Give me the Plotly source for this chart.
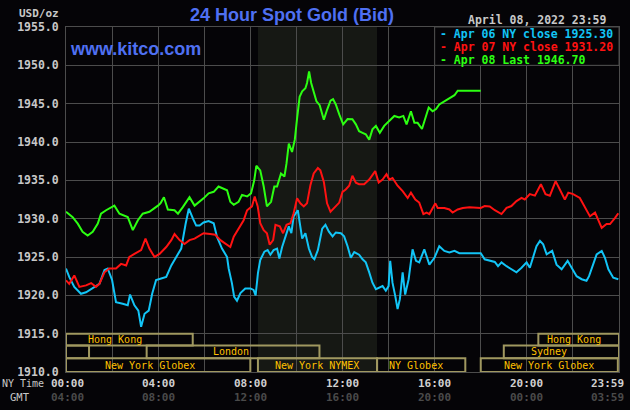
import plotly.graph_objects as go

# ---------------- data ----------------
apr06_hours = [0, 0.14, 0.36, 0.65, 0.87, 1.16, 1.45, 1.67, 1.81, 2.0, 2.17, 2.46, 2.68, 2.78, 2.97, 3.14, 3.26, 3.41, 3.59, 3.74, 3.91, 4.13, 4.35, 4.57, 4.78, 5.0, 5.19, 5.33, 5.51, 5.65, 5.8,
               5.97, 6.19, 6.41, 6.55, 6.77, 6.99, 7.06, 7.2, 7.3, 7.42, 7.57, 7.78, 8.0, 8.14, 8.23, 8.33, 8.43, 8.61, 8.75, 8.87, 9.01, 9.16, 9.26, 9.38, 9.52, 9.67, 9.78, 9.88, 10.06, 10.17, 10.25, 10.39, 10.54, 10.68, 10.78, 10.93, 11.12, 11.26, 11.41,
               11.57, 11.71, 11.93, 12.07, 12.22, 12.36, 12.51, 12.72, 12.87, 13.01, 13.16, 13.3, 13.45, 13.59, 13.74, 13.88, 14.0, 14.07, 14.17, 14.29, 14.39, 14.49, 14.61, 14.72, 14.87, 15.04, 15.19, 15.33, 15.55, 15.77, 15.99, 16.2, 16.42, 16.64, 16.86, 17.07, 17.51, 18.0,
               18.17, 18.39, 18.61, 18.75, 18.9, 19.12, 19.33, 19.55, 19.77, 19.99, 20.13, 20.28, 20.42, 20.57, 20.71, 20.86, 21.1, 21.29, 21.51, 21.77, 21.94, 22.16, 22.38, 22.59, 22.7, 22.88, 23.03, 23.25, 23.39, 23.54, 23.75, 23.97]
apr06_price = [1923.5, 1922.4, 1921.1, 1920.2, 1920.4, 1920.9, 1921.5, 1923.3, 1923.5, 1922.0, 1919.1, 1918.9, 1918.7, 1920.1, 1918.7, 1918.0, 1915.9, 1917.6, 1918.0, 1920.2, 1922.0, 1922.2, 1922.4, 1923.9, 1925.0, 1926.1, 1929.3, 1931.3, 1930.0, 1929.1, 1929.1,
               1929.5, 1929.7, 1929.4, 1927.65, 1926.1, 1925.0, 1923.5, 1921.6, 1919.8, 1919.3, 1920.3, 1920.9, 1920.9, 1920.7, 1920.0, 1922.9, 1924.6, 1925.7, 1925.9, 1925.3, 1925.9, 1926.1, 1924.8, 1926.3, 1927.65, 1929.0, 1928.1, 1930.3, 1931.1, 1929.0, 1927.4, 1928.1, 1926.1, 1925.0, 1924.7, 1925.9, 1928.7, 1929.2, 1928.3,
               1927.7, 1928.2, 1928.1, 1927.7, 1926.4, 1924.9, 1925.65, 1925.3, 1924.7, 1924.3, 1923.0, 1921.65, 1920.8, 1921.0, 1921.2, 1920.6, 1921.2, 1924.5, 1921.65, 1919.9, 1918.2, 1919.5, 1923.0, 1920.1, 1922.1, 1926.0, 1924.5, 1924.3, 1926.0, 1924.0, 1924.9, 1926.4, 1925.8, 1925.6, 1925.8, 1925.5, 1925.5, 1925.5,
               1924.7, 1924.5, 1924.35, 1923.8, 1924.3, 1923.8, 1923.4, 1923.0, 1923.6, 1924.3, 1923.6, 1925.1, 1926.4, 1927.1, 1926.65, 1925.35, 1925.8, 1924.0, 1923.4, 1924.5, 1923.6, 1922.5, 1922.1, 1921.9, 1922.5, 1924.0, 1925.35, 1925.8, 1924.9, 1923.4, 1922.3, 1922.1]

apr07_hours = [0, 0.14, 0.36, 0.58, 0.87, 1.09, 1.3, 1.45, 1.67, 1.88, 2.17, 2.39, 2.61, 2.75, 2.97, 3.26, 3.45, 3.62, 3.84, 4.06, 4.35, 4.57, 4.71, 4.93, 5.14, 5.36, 5.58, 5.8,
               5.97, 6.26, 6.48, 6.7, 6.91, 7.13, 7.28, 7.49, 7.71, 7.86, 8.07, 8.19, 8.32, 8.43, 8.58, 8.72, 8.84, 8.99, 9.09, 9.28, 9.42, 9.57, 9.74, 9.88, 10.03, 10.17, 10.32, 10.46, 10.61, 10.75, 10.93, 11.04, 11.19, 11.33, 11.48,
               11.64, 11.86, 12.0, 12.14, 12.29, 12.43, 12.58, 12.72, 12.94, 13.16, 13.42, 13.57, 13.74, 13.91, 14.03, 14.17, 14.39, 14.61, 14.83, 14.97, 15.16, 15.33, 15.51, 15.65, 15.77, 15.91, 16.03, 16.13, 16.42, 16.64, 16.78, 17.0, 17.22, 17.51, 18.0,
               18.17, 18.39, 18.61, 18.9, 19.12, 19.33, 19.55, 19.77, 19.91, 20.13, 20.35, 20.61, 20.81, 21.0, 21.25, 21.43, 21.65, 21.8, 22.01, 22.3, 22.52, 22.74, 22.96, 23.25, 23.46, 23.61, 23.83, 23.97]
apr07_price = [1921.96, 1921.5, 1922.6, 1921.1, 1921.3, 1921.6, 1921.1, 1921.5, 1923.0, 1923.5, 1923.5, 1924.1, 1923.9, 1925.0, 1925.4, 1925.9, 1927.4, 1926.1, 1925.0, 1925.4, 1926.3, 1927.2, 1928.0, 1927.2, 1926.7, 1927.2, 1927.4, 1927.8,
               1928.1, 1928.0, 1927.9, 1927.2, 1926.8, 1926.3, 1927.65, 1928.7, 1929.8, 1931.1, 1931.6, 1932.9, 1931.6, 1929.4, 1928.5, 1928.1, 1926.6, 1927.2, 1929.2, 1929.0, 1928.1, 1929.2, 1929.4, 1930.7, 1932.65, 1932.0, 1931.6, 1932.0, 1934.4, 1935.9, 1936.6, 1936.3, 1934.8, 1932.0, 1930.9,
               1931.4, 1932.1, 1933.5, 1933.8, 1934.3, 1935.6, 1934.7, 1934.5, 1934.5, 1935.1, 1936.2, 1934.7, 1935.1, 1935.8, 1935.1, 1935.3, 1934.3, 1933.6, 1932.7, 1933.4, 1932.5, 1932.1, 1930.6, 1930.8, 1930.6, 1931.4, 1932.0, 1931.4, 1931.4, 1931.2, 1930.8, 1931.2, 1931.4, 1931.5, 1931.4,
               1931.65, 1931.6, 1931.1, 1930.6, 1931.4, 1931.65, 1932.3, 1932.7, 1932.5, 1933.2, 1933.0, 1934.5, 1933.2, 1933.0, 1934.9, 1933.8, 1932.5, 1933.4, 1933.2, 1932.7, 1931.4, 1930.3, 1930.8, 1928.8, 1929.3, 1929.3, 1930.1, 1930.7]

apr08_hours = [0, 0.29, 0.51, 0.72, 0.94, 1.16, 1.38, 1.52, 1.74, 2.1, 2.32, 2.68, 2.9, 3.12, 3.33, 3.62, 3.99, 4.1, 4.25, 4.42, 4.71, 4.86, 5.07, 5.36, 5.58,
               5.75, 5.97, 6.19, 6.41, 6.62, 6.84, 6.99, 7.13, 7.28, 7.49, 7.64, 7.86, 8.03, 8.17, 8.26, 8.43, 8.58, 8.72, 8.9, 9.04, 9.16, 9.33, 9.48, 9.57, 9.67, 9.81, 9.93, 10.03, 10.14, 10.25, 10.39, 10.46, 10.55, 10.64, 10.75, 10.87, 11.01, 11.19, 11.33, 11.48,
               11.59, 11.71, 11.86, 12.03, 12.22, 12.43, 12.58, 12.72, 12.87, 13.01, 13.16, 13.3, 13.45, 13.62, 13.81, 14.03, 14.25, 14.46, 14.64, 14.78, 14.97, 15.12, 15.26, 15.45, 15.59, 15.74, 15.91, 16.06, 16.2, 16.42, 16.64, 16.86, 17.0, 18.0]
apr08_price = [1930.9, 1930.2, 1929.35, 1928.3, 1927.8, 1928.3, 1929.35, 1930.65, 1931.1, 1931.7, 1930.65, 1930.2, 1928.5, 1929.8, 1930.65, 1930.9, 1931.7, 1932.0, 1932.8, 1931.2, 1931.1, 1930.65, 1931.5, 1932.8, 1931.7,
               1932.1, 1932.65, 1933.3, 1933.5, 1934.2, 1933.9, 1933.7, 1932.2, 1931.8, 1932.2, 1933.1, 1932.9, 1933.3, 1935.0, 1936.9, 1936.3, 1934.2, 1931.6, 1932.2, 1934.2, 1934.2, 1935.9, 1935.5, 1937.2, 1939.8, 1938.7, 1940.3, 1943.1, 1945.9, 1946.6, 1947.0, 1947.7, 1949.2, 1947.7, 1946.6, 1945.3, 1944.8, 1942.9, 1944.2, 1945.4,
               1945.6, 1944.9, 1943.6, 1942.3, 1943.0, 1942.96, 1942.3, 1941.4, 1941.2, 1941.0, 1940.3, 1941.65, 1942.1, 1941.2, 1942.1, 1942.7, 1943.4, 1943.2, 1943.4, 1942.3, 1944.0, 1942.5, 1942.5, 1941.7, 1943.0, 1944.5, 1944.0, 1944.3, 1944.9, 1945.3, 1945.65, 1946.1, 1946.7, 1946.7]

legend_labels = ["Apr 06 NY close 1925.30", "Apr 07 NY close 1931.20", "Apr 08 Last 1946.70"]
series_colors = ["#12c4f6", "#ff1212", "#2cff12"]

tick_hours = [0, 4, 8, 12, 16, 20, 24]
ny_labels = ["00:00", "04:00", "08:00", "12:00", "16:00", "20:00", "23:59"]
gmt_labels = ["04:00", "08:00", "12:00", "16:00", "20:00", "00:00", "03:59"]
y_ticks = [1910, 1915, 1920, 1925, 1930, 1935, 1940, 1945, 1950, 1955]

# sessions: (row, start hour, end hour, label, label hour)
sessions = [
    (1, 0.0, 5.5, "Hong Kong", 2.13),
    (1, 20.5, 24.0, "Hong Kong", 22.05),
    (2, 0.0, 1.0, "", None),
    (2, 3.5, 11.0, "London", 7.16),
    (2, 19.0, 24.0, "Sydney", 20.98),
    (3, 0.0, 8.0, "New York Globex", 3.65),
    (3, 8.33, 13.5, "New York NYMEX", 10.9),
    (3, 13.5, 17.33, "NY Globex", 15.2),
    (3, 18.0, 23.95, "New York Globex", 20.96),
]
comex_start, comex_end = 8.33, 13.5

# ---------------- layout helpers ----------------
W, H = 630, 410
L, R, T, B = 66, 11, 27, 38
PW, PH = W - L - R, H - T - B
def pxx(x):
    return (x - L) / PW
def pxy(y):
    return (H - B - y) / PH

BG = "#050407"
GRID = "#4c4c4c"
MONO = "DejaVu Sans Mono"
row_bounds = {1: (1913.45, 1915.0), 2: (1911.78, 1913.45), 3: (1910.0, 1911.78)}

fig = go.Figure()
for hrs, prs, col, name in zip([apr06_hours, apr07_hours, apr08_hours],
                               [apr06_price, apr07_price, apr08_price],
                               series_colors, legend_labels):
    fig.add_trace(go.Scatter(x=hrs, y=prs, mode="lines", name=name,
                             line=dict(color=col, width=2), showlegend=False))

shapes = []
shapes.append(dict(type="rect", xref="x", yref="y", x0=comex_start, x1=comex_end, y0=1910, y1=1955,
                   fillcolor="#161814", line=dict(width=0), layer="below"))
annotations = []
for row, s, e, lab, lx in sessions:
    y0, y1 = row_bounds[row]
    shapes.append(dict(type="rect", xref="x", yref="y", x0=s, x1=e, y0=y0, y1=y1,
                       fillcolor="rgba(0,0,0,0)", line=dict(color="#a09860", width=2), layer="above"))
    if lab:
        annotations.append(dict(xref="x", yref="y", x=lx, y=(y0 + y1) / 2, text=lab, showarrow=False,
                                font=dict(family=MONO, size=10, color="#ffc000"),
                                xanchor="center", yanchor="middle"))

# legend box
shapes.append(dict(type="rect", xref="x", yref="y", x0=16, x1=24, y0=1950, y1=1955,
                   fillcolor=BG, line=dict(color=GRID, width=1), layer="above"))
for i, (lab, col) in enumerate(zip(legend_labels, series_colors)):
    annotations.append(dict(xref="paper", yref="paper", x=pxx(438), y=pxy(34.5 + 12.6 * i),
                            text="- " + lab, showarrow=False, xanchor="left", yanchor="middle",
                            font=dict(family=MONO, size=11.5, color=col, weight="bold")))

# texts
annotations += [
    dict(xref="paper", yref="paper", x=pxx(292), y=pxy(15), text="<b>24 Hour Spot Gold (Bid)</b>",
         showarrow=False, xanchor="center", yanchor="middle",
         font=dict(family="Liberation Sans, Arial", size=18, color="#4f70f2")),
    dict(xref="paper", yref="paper", x=pxx(68), y=pxy(49), text="<b>www.kitco.com</b>",
         showarrow=False, xanchor="left", yanchor="middle",
         font=dict(family="Liberation Sans, Arial", size=18, color="#4f70f2")),
    dict(xref="paper", yref="paper", x=pxx(61), y=pxy(13), text="USD/oz",
         showarrow=False, xanchor="right", yanchor="middle",
         font=dict(family=MONO, size=11, color="#c8c8c8", weight="bold")),
    dict(xref="paper", yref="paper", x=pxx(609), y=pxy(20), text="April 08, 2022 23:59",
         showarrow=False, xanchor="right", yanchor="middle",
         font=dict(family=MONO, size=11.5, color="#c8c8c8", weight="bold")),
    dict(xref="paper", yref="paper", x=pxx(1), y=pxy(383), text="NY Time",
         showarrow=False, xanchor="left", yanchor="middle", borderpad=0,
         font=dict(family=MONO, size=10, color="#c8c8c8")),
    dict(xref="paper", yref="paper", x=pxx(20), y=pxy(397), text="GMT",
         showarrow=False, xanchor="center", yanchor="middle", borderpad=0,
         font=dict(family=MONO, size=10.5, color="#c8c8c8")),
]
for h, ny, gm in zip(tick_hours, ny_labels, gmt_labels):
    shift = -12 if h == 24 else (1 if h == 0 else 0)
    annotations.append(dict(xref="x", yref="paper", x=h, xshift=shift, y=pxy(383), text=ny, showarrow=False,
                            xanchor="center", yanchor="middle", borderpad=0,
                            font=dict(family=MONO, size=11, color="#d0d0d0", weight="bold")))
    annotations.append(dict(xref="x", yref="paper", x=h, xshift=shift, y=pxy(397), text=gm, showarrow=False,
                            xanchor="center", yanchor="middle", borderpad=0,
                            font=dict(family=MONO, size=11, color="#4a4a4a", weight="bold")))

fig.update_layout(
    width=W, height=H, margin=dict(l=L, r=R, t=T, b=B, autoexpand=False),
    paper_bgcolor=BG, plot_bgcolor=BG,
    shapes=shapes, annotations=annotations, showlegend=False,
    xaxis=dict(range=[0, 24], tickvals=list(range(0, 25, 2)), showticklabels=False,
               showgrid=True, gridcolor=GRID, gridwidth=1, zeroline=False,
               showline=True, linecolor=GRID, mirror=True, fixedrange=True),
    yaxis=dict(range=[1910, 1955], tickvals=y_ticks, ticktext=[f"{v:.1f}" for v in y_ticks],
               showgrid=True, gridcolor=GRID, gridwidth=1, zeroline=False,
               showline=True, linecolor=GRID, mirror=True, ticks="", ticklabelstandoff=4,
               tickfont=dict(family=MONO, size=11.5, color="#c8c8c8", weight="bold"), fixedrange=True),
)

fig.write_html("out.html", config={"displayModeBar": False})
